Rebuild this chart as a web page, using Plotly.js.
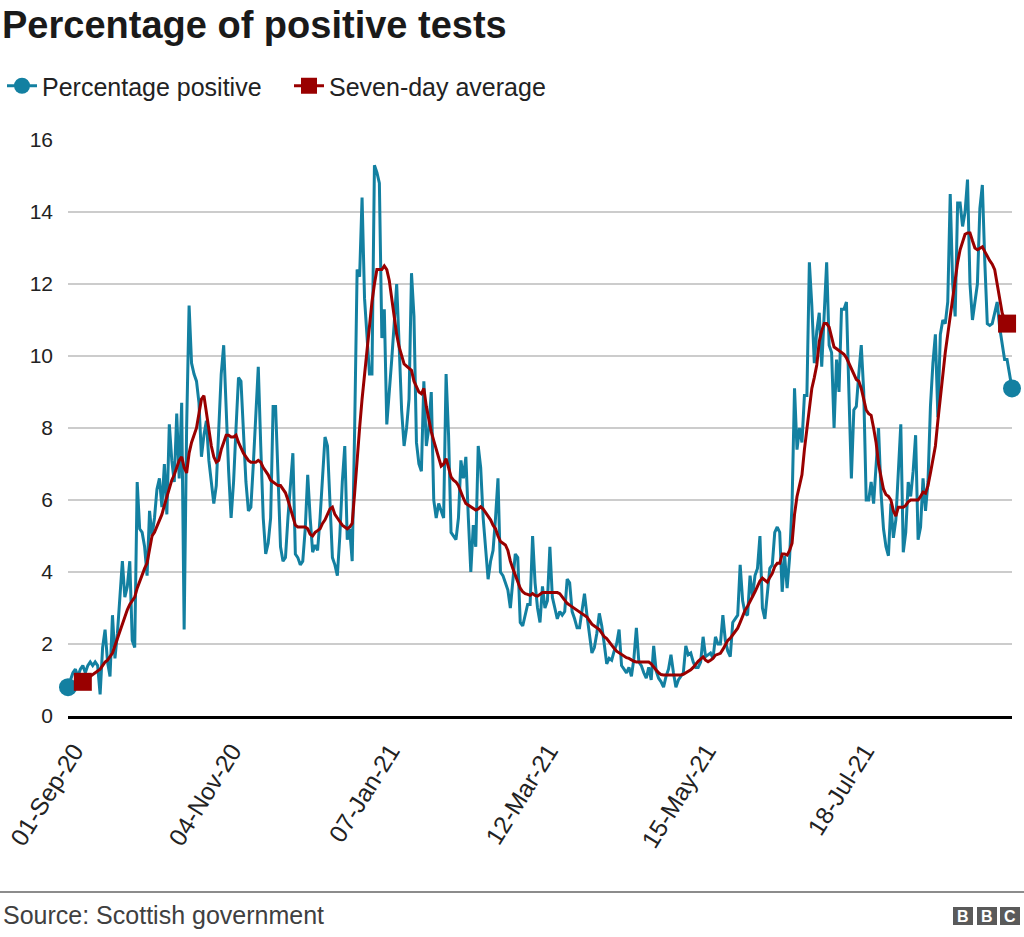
<!DOCTYPE html>
<html><head><meta charset="utf-8">
<script src="https://cdn.plot.ly/plotly-3.0.1.min.js"></script>
<style>html,body{margin:0;padding:0;background:#fff;}#chart{width:1024px;height:937px;}</style>
</head><body><div id="chart"></div>
<script>
// ---- data ----
const startDate = '2020-09-01';
const averageStartDay = 6;
const tickDates = ['2020-09-01','2020-11-04','2021-01-07','2021-03-12','2021-05-15','2021-07-18'];
const yTicks = [0,2,4,6,8,10,12,14,16];

const percentagePositive = [
0.8,1.0,1.2,1.3,1.1,1.3,1.4,1.2,1.4,1.5,
1.4,1.5,1.4,0.6,1.9,2.4,1.5,1.1,2.8,1.6,
2.3,3.3,4.3,3.3,3.6,4.3,2.1,1.9,6.5,5.2,
5.1,4.7,3.9,5.7,5.0,5.5,6.3,6.6,5.8,7.0,
5.6,8.1,7.1,6.5,8.4,6.6,8.7,2.4,8.0,11.4,
9.8,9.5,9.3,8.7,7.2,7.8,8.2,7.1,6.5,5.9,
6.4,8.0,9.5,10.3,8.5,6.8,5.5,6.5,8.0,9.4,
9.3,7.8,6.5,5.7,5.8,7.0,8.5,9.7,7.5,5.5,
4.5,4.8,5.5,8.6,8.6,6.5,4.7,4.3,4.4,5.5,
6.5,7.3,4.5,4.4,4.2,4.3,5.2,6.7,5.5,4.55,
4.75,4.6,5.5,6.5,7.75,7.5,5.8,4.4,4.2,3.9,
5.0,6.5,7.5,4.9,5.2,4.3,8.0,12.4,12.2,14.4,
11.6,10.5,9.5,9.5,15.3,15.1,14.8,10.5,11.3,8.1,
8.9,9.9,10.9,12.0,10.3,8.5,7.5,8.0,8.8,12.3,
11.1,7.6,7.0,6.8,9.3,7.5,8.0,9.0,6.0,5.5,
5.9,5.7,5.5,9.5,7.8,5.1,5.0,4.9,5.5,7.1,
6.6,7.2,5.5,4.0,5.3,4.7,7.5,6.9,5.5,4.5,
3.8,4.3,4.6,5.5,6.6,4.0,3.9,3.7,3.5,3.0,
3.8,4.5,4.4,2.6,2.5,2.8,3.1,3.1,5.0,3.7,
3.0,2.6,3.6,3.0,3.2,4.7,3.3,3.0,2.7,2.9,
2.8,2.9,3.8,3.7,2.9,2.7,2.45,2.45,2.9,3.4,
2.8,2.2,1.75,1.9,2.3,2.85,2.5,2.0,1.45,1.6,
1.55,1.8,2.0,2.4,1.4,1.3,1.2,1.35,1.1,1.6,
2.45,1.5,1.4,1.2,1.05,1.35,1.0,1.95,1.25,1.05,
0.95,0.8,1.1,1.3,1.7,1.2,0.8,1.0,1.1,1.2,
1.95,1.7,1.75,1.5,1.35,1.35,1.5,2.2,1.65,1.7,
1.75,1.6,2.2,2.0,2.0,2.8,2.1,1.8,1.65,2.6,
2.7,2.8,4.2,3.2,2.85,2.8,3.9,3.3,3.9,4.1,
5.0,3.0,2.7,3.5,4.1,4.2,5.1,5.25,5.1,3.45,
4.45,3.55,4.4,5.9,9.1,7.4,8.0,7.6,8.9,8.9,
12.6,11.4,9.8,10.7,11.2,9.7,11.0,12.6,10.3,10.1,
8.0,9.9,9.0,11.3,11.3,11.5,9.0,6.6,8.5,8.6,
9.5,10.3,9.0,6.0,6.0,6.5,5.9,7.0,8.0,6.2,
5.2,4.7,4.45,5.9,4.95,5.45,6.8,8.1,4.55,5.1,
6.5,6.1,6.8,7.8,4.9,5.25,6.6,5.7,6.5,8.6,
9.8,10.6,8.3,10.6,11.0,10.9,11.5,14.5,12.0,11.1,
14.25,14.25,13.6,14.0,14.9,12.0,11.0,11.5,12.0,14.1,
14.75,12.6,10.9,10.85,10.9,11.2,11.5,10.8,10.3,9.9,
9.9,9.5,9.1
];

const sevenDayAverage = [
0.95,1.0,1.05,1.1,
1.15,1.2,1.25,1.3,1.4,1.5,1.55,1.65,1.75,1.95,
2.15,2.4,2.6,2.8,2.95,3.1,3.2,3.3,3.55,3.75,
3.95,4.1,4.25,4.6,5.0,5.1,5.25,5.4,5.6,5.85,
6.1,6.3,6.55,6.7,6.9,7.1,7.2,6.9,6.75,7.3,
7.6,7.8,8.0,8.4,8.8,8.9,8.4,7.9,7.5,7.2,
7.05,7.1,7.4,7.6,7.8,7.8,7.75,7.75,7.8,7.6,
7.45,7.3,7.2,7.1,7.05,7.05,7.05,7.1,7.05,6.9,
6.8,6.7,6.55,6.5,6.45,6.4,6.4,6.3,6.2,6.0,
5.75,5.5,5.3,5.25,5.25,5.25,5.25,5.2,5.05,5.0,
5.1,5.15,5.2,5.35,5.45,5.6,5.75,5.8,5.6,5.5,
5.4,5.3,5.25,5.2,5.25,5.35,6.2,7.2,8.0,8.8,
9.5,10.2,10.9,11.5,12.0,12.4,12.4,12.4,12.5,12.4,
12.1,11.6,11.06,10.6,10.25,10.0,9.78,9.72,9.67,9.6,
9.3,9.15,9.0,8.95,9.1,8.6,8.2,7.9,7.65,7.4,
7.15,6.94,7.0,7.15,6.9,6.64,6.55,6.5,6.4,6.2,
6.05,5.9,5.85,5.8,5.76,5.72,5.75,5.81,5.75,5.65,
5.56,5.45,5.3,5.2,5.0,4.85,4.8,4.75,4.6,4.3,
4.1,3.9,3.7,3.55,3.45,3.4,3.38,3.35,3.4,3.35,
3.33,3.38,3.43,3.43,3.43,3.43,3.43,3.43,3.43,3.4,
3.3,3.2,3.13,3.08,3.03,3.0,2.95,2.9,2.85,2.8,
2.75,2.65,2.55,2.5,2.45,2.4,2.3,2.2,2.15,2.05,
1.95,1.88,1.8,1.75,1.7,1.65,1.62,1.6,1.55,1.52,
1.5,1.5,1.5,1.5,1.5,1.5,1.45,1.35,1.28,1.2,
1.15,1.14,1.14,1.14,1.14,1.14,1.13,1.14,1.14,1.16,
1.2,1.25,1.28,1.35,1.45,1.52,1.58,1.64,1.55,1.51,
1.55,1.6,1.69,1.72,1.74,1.85,2.0,2.1,2.16,2.25,
2.35,2.44,2.6,2.8,2.94,3.05,3.17,3.3,3.45,3.6,
3.75,3.83,3.78,3.72,3.85,3.96,4.15,4.24,4.24,4.5,
4.5,4.47,4.6,4.8,5.6,6.1,6.4,6.7,7.4,8.0,
8.6,9.1,9.4,9.75,10.4,10.7,10.9,10.9,10.8,10.5,
10.25,10.2,10.15,10.1,10.05,9.95,9.8,9.65,9.45,9.35,
9.3,9.1,8.8,8.5,8.4,8.35,8.0,7.6,7.0,6.6,
6.3,6.15,6.1,6.0,5.7,5.55,5.8,5.8,5.8,5.85,
5.95,6.0,6.0,6.0,6.0,6.1,6.22,6.19,6.4,6.75,
7.1,7.5,8.2,8.9,9.5,10.1,10.6,11.1,11.7,12.2,
12.6,12.95,13.2,13.38,13.42,13.42,13.2,13.0,12.95,13.0,
13.03,12.9,12.75,12.65,12.55,12.4,12.0,11.6,11.2,11.0,
10.9
];

// ---- helpers ----
function dayToDate(i){
  const d = new Date(startDate + 'T00:00:00Z');
  d.setUTCDate(d.getUTCDate() + i);
  return d.toISOString().slice(0,10);
}
const datesP = percentagePositive.map((_, i) => dayToDate(i));
const datesA = sevenDayAverage.map((_, i) => dayToDate(i + averageStartDay));
const lastP = percentagePositive.length - 1;
const lastA = sevenDayAverage.length - 1;

const BLUE = '#1380A1', RED = '#990000';
const FONT = 'Liberation Sans, Arial, Helvetica, sans-serif';

// layout geometry (pixels)
const W = 1024, H = 937, L = 68, R = 12, T = 140, B = 221;
const pw = W - L - R, ph = H - T - B;
const px = x => (x - L) / pw;
const py = y => (H - B - y) / ph;

const traces = [
  {x: datesP, y: percentagePositive, type:'scatter', mode:'lines', line:{color:BLUE, width:3}, showlegend:false, hoverinfo:'skip'},
  {x: datesA, y: sevenDayAverage, type:'scatter', mode:'lines', line:{color:RED, width:3}, showlegend:false, hoverinfo:'skip'},
  {x: [datesP[0], datesP[lastP]], y: [percentagePositive[0], percentagePositive[lastP]], type:'scatter', mode:'markers',
   marker:{symbol:'circle', size:18, color:BLUE}, cliponaxis:false, showlegend:false, hoverinfo:'skip'},
  {x: [datesA[0], datesA[lastA]], y: [sevenDayAverage[0], sevenDayAverage[lastA]], type:'scatter', mode:'markers',
   marker:{symbol:'square', size:18, color:RED}, cliponaxis:false, showlegend:false, hoverinfo:'skip'},
  {x:[null], y:[null], type:'scatter', mode:'lines+markers', name:'Percentage positive',
   line:{color:BLUE, width:3}, marker:{symbol:'circle', size:16, color:BLUE}},
  {x:[null], y:[null], type:'scatter', mode:'lines+markers', name:'Seven-day average',
   line:{color:RED, width:3}, marker:{symbol:'square', size:16, color:RED}}
];

const shapes = [
  {type:'line', xref:'paper', yref:'paper', x0:px(0), x1:px(W), y0:py(892), y1:py(892), line:{color:'#8c8c8c', width:2}},
  {type:'rect', xref:'paper', yref:'paper', x0:px(953), x1:px(973), y0:py(925), y1:py(907), fillcolor:'#5a5a5a', line:{width:0}},
  {type:'rect', xref:'paper', yref:'paper', x0:px(977), x1:px(997), y0:py(925), y1:py(907), fillcolor:'#5a5a5a', line:{width:0}},
  {type:'rect', xref:'paper', yref:'paper', x0:px(1000), x1:px(1020), y0:py(925), y1:py(907), fillcolor:'#5a5a5a', line:{width:0}}
];

const bbc = ['B','B','C'];
const bbcX = [963, 987, 1010];
const annotations = [
  {text:'Source: Scottish government', xref:'paper', yref:'paper', x:px(1), y:py(915), xanchor:'left', yanchor:'middle',
   showarrow:false, font:{family:FONT, size:25, color:'#404040'}}
].concat(bbc.map((t, i) => ({text:'<b>'+t+'</b>', xref:'paper', yref:'paper', x:px(bbcX[i]), y:py(916.5), xanchor:'center', yanchor:'middle',
   showarrow:false, font:{family:FONT, size:16, color:'#ffffff'}})));

const layout = {
  width: W, height: H,
  margin: {l:L, r:R, t:T, b:B, pad:0},
  paper_bgcolor:'#ffffff', plot_bgcolor:'#ffffff',
  font: {family:FONT, color:'#222222', size:21},
  title: {text:'<b>Percentage of positive tests</b>', font:{family:FONT, size:38, color:'#1a1a1a'},
          xref:'container', yref:'container', x:2/W, xanchor:'left', y:1 - 25/H, yanchor:'middle'},
  showlegend: true,
  legend: {orientation:'h', xref:'container', yref:'container', x:2/W, xanchor:'left', y:1 - 86/H, yanchor:'middle',
           font:{family:FONT, size:25, color:'#222222'}, itemsizing:'trace', entrywidth:242, entrywidthmode:'pixels',
           bgcolor:'rgba(0,0,0,0)', tracegroupgap:0},
  xaxis: {type:'date', range:[datesP[0], datesP[lastP]], tickvals: tickDates, tickformat:'%d-%b-%y', tickangle:-58,
          tickfont:{family:FONT, size:24.5, color:'#222222'}, showgrid:false, zeroline:false, showline:true,
          linecolor:'#000000', linewidth:3, ticks:'', ticklabelstandoff:8, ticklabelshift:6, fixedrange:true},
  yaxis: {range:[0,16], tickvals:yTicks, showgrid:true, gridcolor:'#cccccc', gridwidth:1.5, zeroline:false, showline:false,
          ticks:'', ticklabelstandoff:14, tickfont:{family:FONT, size:21, color:'#222222'}, fixedrange:true},
  shapes: shapes,
  annotations: annotations,
  hovermode:false
};

Plotly.newPlot('chart', traces, layout, {displayModeBar:false, staticPlot:true});
</script>
</body></html>
